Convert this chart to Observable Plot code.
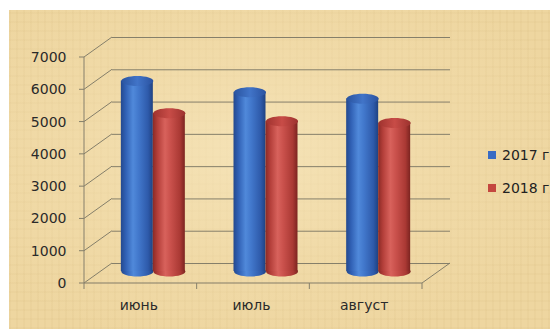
<!DOCTYPE html>
<html>
<head>
<meta charset="utf-8">
<script src="https://cdn.jsdelivr.net/npm/d3@7"></script>
<script src="https://cdn.jsdelivr.net/npm/@observablehq/plot@0.6"></script>
<style>
  html, body { margin: 0; padding: 0; background: #fff; overflow: hidden; }
  #wrap { position: relative; width: 550px; height: 329px; background: #fff; overflow: hidden; font-family: "DejaVu Sans", sans-serif; }
  #paper { position: absolute; left: 9px; top: 10px; right: 0; bottom: 0;
    background:
      radial-gradient(ellipse at 45% 45%, rgba(248,232,192,0.7) 0%, rgba(244,224,178,0.4) 45%, rgba(236,212,158,0) 80%),
      repeating-linear-gradient(90deg, rgba(196,164,100,0.08) 0px, rgba(196,164,100,0.08) 2px, rgba(255,255,255,0) 2px, rgba(255,255,255,0) 7px),
      repeating-linear-gradient(0deg, rgba(196,164,100,0.07) 0px, rgba(196,164,100,0.07) 2px, rgba(255,255,255,0) 2px, rgba(255,255,255,0) 9px),
      #eed6a0; }
  #chart { position: absolute; left: 0; top: 0; }
  .leg { position: absolute; left: 488px; font-size: 14px; color: #222; white-space: nowrap; line-height: 16px; }
  .leg i { display: inline-block; width: 8px; height: 8px; margin-right: 6px; vertical-align: 1px; }
</style>
</head>
<body>
<div id="wrap">
  <div id="paper"></div>
  <div id="chart"></div>
  <div id="legend"></div>
</div>
<script>
const months = ["июнь", "июль", "август"];
const v2017 = [5900, 5550, 5350];
const v2018 = [4900, 4650, 4600];
const yTicks = [0, 1000, 2000, 3000, 4000, 5000, 6000, 7000];
const seriesNames = ["2017 г.", "2018 г."];
const seriesColors = ["#3a6cc4", "#c4473f"];

const data = months.map((m, i) => ({month: m, a: v2017[i], b: v2018[i]}));

// 3D depth of the chart box (pixels)
const DX = 28, DY = 20;
const MY = 12; // mid-depth for the cylinders
const BW = 32; // cylinder width
const bandW = (550 - 84 - 128) / months.length;
const inset = (bandW - BW) / 2;

function ellipse(rx, ry) {
  const k = 0.5523;
  return {draw(ctx) {
    ctx.moveTo(rx, 0);
    ctx.bezierCurveTo(rx, ry * k, rx * k, ry, 0, ry);
    ctx.bezierCurveTo(-rx * k, ry, -rx, ry * k, -rx, 0);
    ctx.bezierCurveTo(-rx, -ry * k, -rx * k, -ry, 0, -ry);
    ctx.bezierCurveTo(rx * k, -ry, rx, -ry * k, rx, 0);
    ctx.closePath();
  }};
}
const ell = ellipse(BW / 2, 5);

function defsMark() {
  const defs = d3.create("svg:defs");
  const grads = {
    gBlue: [["0", "#24498e"], ["0.15", "#3060b4"], ["0.38", "#5089da"], ["0.55", "#4278cc"], ["0.85", "#2e5aaa"], ["1", "#1f4282"]],
    gRed: [["0", "#8a2a26"], ["0.15", "#b43f3a"], ["0.38", "#d8625c"], ["0.55", "#ca514c"], ["0.85", "#aa3934"], ["1", "#7c2420"]],
    gBlueTop: [["0", "#2a54a0"], ["0.5", "#4174c8"], ["1", "#2a52a0"]],
    gRedTop: [["0", "#a0332f"], ["0.5", "#c84c47"], ["1", "#9c322e"]]
  };
  for (const [id, stops] of Object.entries(grads)) {
    const g = defs.append("linearGradient").attr("id", id).attr("x1", 0).attr("x2", 1).attr("y1", 0).attr("y2", 0);
    for (const [o, c] of stops) g.append("stop").attr("offset", o).attr("stop-color", c);
  }
  return defs.node();
}

function wallMark(index, scales, values, dimensions) {
  const {x, y} = scales;
  const x0 = dimensions.marginLeft, x1 = dimensions.width - dimensions.marginRight;
  const g = d3.create("svg:g").attr("fill", "none").attr("stroke", "#857f6a").attr("stroke-width", 1);
  for (const v of yTicks) {
    g.append("path").attr("d", `M${x0},${y(v)}L${x0 + DX},${y(v) - DY}`);
    g.append("path").attr("d", `M${x0 - 5},${y(v)}H${x0}`);
  }
  g.append("path").attr("d", `M${x0},${y(0)}V${y(7000)}`);
  g.append("path").attr("d", `M${x0},${y(0)}H${x1}L${x1 + DX},${y(0) - DY}`);
  const bounds = months.map(m => x(m)).concat([x1]);
  for (const b of bounds) g.append("path").attr("d", `M${b},${y(0)}V${y(0) + 6}`);
  return g.node();
}

function cylinder(key, dx, body, top) {
  return [
    Plot.dot(data, {x: "month", y: () => 0, dx, dy: -MY, symbol: ell, fill: body, stroke: "none"}),
    Plot.barY(data, {x: "month", y: key, dx, dy: -MY, insetLeft: inset, insetRight: inset, fill: body}),
    Plot.dot(data, {x: "month", y: key, dx, dy: -MY, symbol: ell, fill: top, stroke: "none"})
  ];
}

const chart = Plot.plot({
  width: 550,
  height: 329,
  marginLeft: 84,
  marginRight: 128,
  marginTop: 57,
  marginBottom: 46,
  style: {background: "transparent", fontFamily: "DejaVu Sans, sans-serif", fontSize: "14px", overflow: "visible", color: "#222"},
  x: {type: "band", domain: months, padding: 0, round: false, axis: null},
  y: {domain: [0, 7000], axis: null},
  marks: [
    defsMark,
    Plot.ruleY(yTicks, {dx: DX, dy: -DY, stroke: "#857f6a", strokeWidth: 1, strokeOpacity: 1}),
    wallMark,
    ...cylinder("a", -3.5, "url(#gBlue)", "url(#gBlueTop)"),
    ...cylinder("b", 28.5, "url(#gRed)", "url(#gRedTop)"),
    Plot.text(yTicks, {y: d => d, frameAnchor: "left", dx: -18, textAnchor: "end", text: d => String(d), fill: "#2a2a2a"}),
    Plot.text(months, {x: d => d, y: () => 0, dy: 22, dx: -2, text: d => d, fill: "#2a2a2a"})
  ]
});
document.getElementById("chart").appendChild(chart);

const legend = document.getElementById("legend");
seriesNames.forEach((name, i) => {
  const div = document.createElement("div");
  div.className = "leg";
  div.style.top = (147 + i * 33) + "px";
  div.innerHTML = `<i style="background:${seriesColors[i]}"></i>${name}`;
  legend.appendChild(div);
});
</script>
</body>
</html>
